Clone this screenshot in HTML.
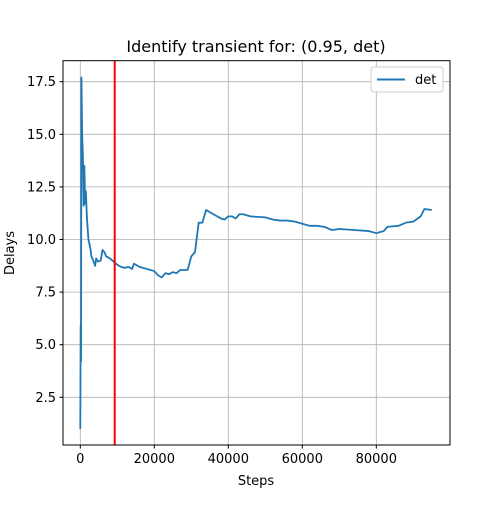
<!DOCTYPE html>
<html><head><meta charset="utf-8"><style>
body{margin:0;background:#fff;font-family:"Liberation Sans","DejaVu Sans",sans-serif}
svg text{font-family:"DejaVu Sans","Liberation Sans",sans-serif}
</style></head><body>
<svg id="chart" width="500" height="500" xmlns="http://www.w3.org/2000/svg">
<rect width="500" height="500" fill="#fff"/>
<g id="grid"></g>
<g id="series"></g>
<rect x="63" y="60.7" width="387" height="384.3" fill="none" stroke="#000" stroke-width="1"/>
<g id="ticks"></g>
<text x="256" y="52" font-size="16" text-anchor="middle">Identify transient for: (0.95, det)</text>
<text x="256" y="485" font-size="13" text-anchor="middle">Steps</text>
<text x="14" y="253" font-size="13" text-anchor="middle" transform="rotate(-90 14 253)">Delays</text>
<g>
<rect x="371" y="67" width="72" height="25" rx="3" fill="#fff" stroke="#ccc"/>
<line x1="377" y1="79.5" x2="405" y2="79.5" stroke="#1f77b4" stroke-width="2"/>
<text x="415" y="84" font-size="13">det</text>
</g>
</svg>
<script>
const steps=[0,100,200,300,500,700,900,1100,1300,1500,1800,2200,2700,3000,3500,4000,4300,4800,5500,6000,6500,7000,8000,9000,10000,11000,12000,13000,14000,14500,15000,16000,18000,20000,21000,22000,23000,24000,25000,26000,27000,29000,30000,31000,32000,33000,34000,36000,38000,39000,40000,41000,42000,43000,44000,46000,50000,52000,54000,56000,58000,60000,62000,64000,66000,68000,70000,74000,78000,80000,81000,82000,83000,86000,88000,90000,92000,93000,95000];
const delays=[1.0,5.9,4.2,17.7,15,14,11.6,13.5,11.7,12.3,11,10,9.6,9.2,9.0,8.75,9.1,8.95,9.0,9.5,9.4,9.2,9.1,8.95,8.8,8.7,8.65,8.7,8.6,8.85,8.8,8.7,8.6,8.5,8.3,8.2,8.4,8.35,8.45,8.4,8.55,8.55,9.2,9.4,10.8,10.8,11.4,11.2,11.0,10.95,11.1,11.1,11.0,11.2,11.2,11.1,11.05,10.95,10.9,10.9,10.85,10.75,10.65,10.65,10.6,10.45,10.5,10.45,10.4,10.3,10.35,10.4,10.6,10.65,10.8,10.85,11.1,11.45,11.4];
const transientStep=9300;
const xTicks=[0,20000,40000,60000,80000];
const yTicks=[2.5,5.0,7.5,10.0,12.5,15.0,17.5];
const yTickLabels=["2.5","5.0","7.5","10.0","12.5","15.0","17.5"];
const X=v=>80.3+v*0.0037;
const Y=v=>81.7+(17.5-v)*21.04;
const NS="http://www.w3.org/2000/svg";
function mk(t,a,p){const e=document.createElementNS(NS,t);for(const k in a)e.setAttribute(k,a[k]);p.appendChild(e);return e;}
const g=document.getElementById('grid'),tk=document.getElementById('ticks'),s=document.getElementById('series');
xTicks.forEach(v=>{
 const l=mk('line',{x1:X(v),x2:X(v),y1:60.7,y2:445,stroke:'#b0b0b0','stroke-width':0.8},g);
 
 
 const m=mk('line',{x1:X(v),x2:X(v),y1:445,y2:448.5,stroke:'#000'},tk);
 
 
 const t=mk('text',{x:X(v),y:463,'font-size':13,'text-anchor':'middle'},tk);t.textContent=v;
 
 
});
yTicks.forEach((v,i)=>{
 const l=mk('line',{x1:63,x2:450,y1:Y(v),y2:Y(v),stroke:'#b0b0b0','stroke-width':0.8},g);
 
 
 const m=mk('line',{x1:59.5,x2:63,y1:Y(v),y2:Y(v),stroke:'#000'},tk);
 
 
 const t=mk('text',{x:56,y:Y(v)+4.5,'font-size':13,'text-anchor':'end'},tk);t.textContent=yTickLabels[i];
 
 
});
const p=mk('polyline',{points:steps.map((v,i)=>X(v)+','+Y(delays[i])).join(' '),fill:'none',stroke:'#1f77b4','stroke-width':1.8,'stroke-linejoin':'round'},s);


const r=mk('line',{x1:X(transientStep),x2:X(transientStep),y1:60.7,y2:445,stroke:'#ff0000','stroke-width':2},s);


</script>
</body></html>
